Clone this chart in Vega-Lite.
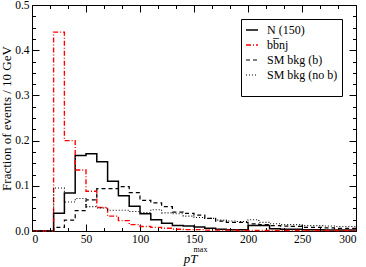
{
  "$schema": "https://vega.github.io/schema/vega-lite/v6.json",
  "width": 324,
  "height": 226,
  "autosize": {"type": "none"},
  "padding": {"left": 32, "top": 5, "right": 10, "bottom": 36},
  "config": {
    "view": {"stroke": "black", "strokeWidth": 1},
    "font": "Liberation Serif",
    "axis": {"domain": false, "grid": false, "labelFont": "Liberation Serif", "titleFont": "Liberation Serif", "labelColor": "black", "titleColor": "black", "tickColor": "black", "titleFontWeight": "normal", "labelFontSize": 11.5}
  },
  "data": {"values": [
    {"x": 0, "N (150)": 0, "bb̅nj": 0, "SM bkg (b)": 0, "SM bkg (no b)": 0},
    {"x": 10, "N (150)": 0, "bb̅nj": 0, "SM bkg (b)": 0, "SM bkg (no b)": 0},
    {"x": 20, "N (150)": 0.039, "bb̅nj": 0.44, "SM bkg (b)": 0.008, "SM bkg (no b)": 0.095},
    {"x": 30, "N (150)": 0.084, "bb̅nj": 0.2, "SM bkg (b)": 0.024, "SM bkg (no b)": 0.064},
    {"x": 40, "N (150)": 0.167, "bb̅nj": 0.135, "SM bkg (b)": 0.045, "SM bkg (no b)": 0.072},
    {"x": 50, "N (150)": 0.171, "bb̅nj": 0.088, "SM bkg (b)": 0.069, "SM bkg (no b)": 0.054},
    {"x": 60, "N (150)": 0.153, "bb̅nj": 0.052, "SM bkg (b)": 0.094, "SM bkg (no b)": 0.051},
    {"x": 70, "N (150)": 0.11, "bb̅nj": 0.033, "SM bkg (b)": 0.094, "SM bkg (no b)": 0.046},
    {"x": 80, "N (150)": 0.078, "bb̅nj": 0.023, "SM bkg (b)": 0.098, "SM bkg (no b)": 0.046},
    {"x": 90, "N (150)": 0.055, "bb̅nj": 0.014, "SM bkg (b)": 0.085, "SM bkg (no b)": 0.043},
    {"x": 100, "N (150)": 0.038, "bb̅nj": 0.01, "SM bkg (b)": 0.068, "SM bkg (no b)": 0.041},
    {"x": 110, "N (150)": 0.025, "bb̅nj": 0.008, "SM bkg (b)": 0.062, "SM bkg (no b)": 0.047},
    {"x": 120, "N (150)": 0.017, "bb̅nj": 0.006, "SM bkg (b)": 0.054, "SM bkg (no b)": 0.04},
    {"x": 130, "N (150)": 0.012, "bb̅nj": 0.004, "SM bkg (b)": 0.042, "SM bkg (no b)": 0.038},
    {"x": 140, "N (150)": 0.011, "bb̅nj": 0.003, "SM bkg (b)": 0.039, "SM bkg (no b)": 0.033},
    {"x": 150, "N (150)": 0.009, "bb̅nj": 0.003, "SM bkg (b)": 0.035, "SM bkg (no b)": 0.03},
    {"x": 160, "N (150)": 0.006, "bb̅nj": 0.002, "SM bkg (b)": 0.028, "SM bkg (no b)": 0.028},
    {"x": 170, "N (150)": 0.004, "bb̅nj": 0.002, "SM bkg (b)": 0.022, "SM bkg (no b)": 0.024},
    {"x": 180, "N (150)": 0.003, "bb̅nj": 0.002, "SM bkg (b)": 0.019, "SM bkg (no b)": 0.022},
    {"x": 190, "N (150)": 0.003, "bb̅nj": 0.001, "SM bkg (b)": 0.019, "SM bkg (no b)": 0.021},
    {"x": 200, "N (150)": 0.012, "bb̅nj": 0.001, "SM bkg (b)": 0.016, "SM bkg (no b)": 0.025},
    {"x": 210, "N (150)": 0.012, "bb̅nj": 0.001, "SM bkg (b)": 0.014, "SM bkg (no b)": 0.019},
    {"x": 220, "N (150)": 0.005, "bb̅nj": 0.001, "SM bkg (b)": 0.012, "SM bkg (no b)": 0.016},
    {"x": 230, "N (150)": 0.004, "bb̅nj": 0.001, "SM bkg (b)": 0.011, "SM bkg (no b)": 0.014},
    {"x": 240, "N (150)": 0.004, "bb̅nj": 0.001, "SM bkg (b)": 0.01, "SM bkg (no b)": 0.014},
    {"x": 250, "N (150)": 0.003, "bb̅nj": 0.001, "SM bkg (b)": 0.008, "SM bkg (no b)": 0.012},
    {"x": 260, "N (150)": 0.003, "bb̅nj": 0.001, "SM bkg (b)": 0.008, "SM bkg (no b)": 0.012},
    {"x": 270, "N (150)": 0.002, "bb̅nj": 0.001, "SM bkg (b)": 0.007, "SM bkg (no b)": 0.011},
    {"x": 280, "N (150)": 0.002, "bb̅nj": 0.001, "SM bkg (b)": 0.006, "SM bkg (no b)": 0.01},
    {"x": 290, "N (150)": 0.002, "bb̅nj": 0.001, "SM bkg (b)": 0.006, "SM bkg (no b)": 0.01},
    {"x": 300, "N (150)": 0.002, "bb̅nj": 0.001, "SM bkg (b)": 0.006, "SM bkg (no b)": 0.01}
  ]},
  "transform": [{"fold": ["N (150)", "bb̅nj", "SM bkg (b)", "SM bkg (no b)"], "as": ["series", "y"]}],
  "layer": [
    {
      "mark": {"type": "line", "interpolate": "step-after"},
      "encoding": {
        "x": {"field": "x", "type": "quantitative", "scale": {"domain": [0, 300], "nice": false},
          "axis": {"orient": "bottom", "values": [0, 50, 100, 150, 200, 250, 300], "tickSize": -7, "labelPadding": 9, "title": "pT", "titleFontStyle": "italic", "titleFontSize": 13, "titlePadding": 8, "titleX": 158}},
        "y": {"field": "y", "type": "quantitative", "scale": {"domain": [0, 0.5], "nice": false},
          "axis": {"orient": "left", "values": [0, 0.1, 0.2, 0.3, 0.4, 0.5], "tickSize": -7, "labelPadding": 10, "title": "Fraction of events / 10 GeV", "titleFontSize": 13, "titlePadding": 1}},
        "color": {"field": "series", "type": "nominal",
          "scale": {"domain": ["N (150)", "bb̅nj", "SM bkg (b)", "SM bkg (no b)"], "range": ["black", "#ff0000", "black", "black"]},
          "legend": {"orient": "top-right", "offset": 14, "title": " ", "titleOrient": "bottom", "titleFontSize": 6, "strokeColor": "black", "fillColor": "white", "padding": 4, "rowPadding": 2, "symbolType": "stroke", "symbolSize": 144, "symbolStrokeWidth": 1.2, "labelFont": "Liberation Serif", "labelFontSize": 12, "labelOffset": 8, "labelColor": "black", "cornerRadius": 0}},
        "strokeDash": {"field": "series", "type": "nominal",
          "scale": {"domain": ["N (150)", "bb̅nj", "SM bkg (b)", "SM bkg (no b)"], "range": [[1, 0], [5, 2, 1, 2], [4, 3], [1, 2]]}},
        "strokeWidth": {"field": "series", "type": "nominal",
          "scale": {"domain": ["N (150)", "bb̅nj", "SM bkg (b)", "SM bkg (no b)"], "range": [1.5, 1.1, 1.1, 1.1]}, "legend": null}
      }
    },
    {
      "mark": {"type": "line", "opacity": 0},
      "encoding": {
        "x": {"field": "x", "type": "quantitative", "axis": {"orient": "top", "values": [0, 50, 100, 150, 200, 250, 300], "tickSize": -7, "labels": false, "title": null}},
        "y": {"field": "y", "type": "quantitative", "axis": {"orient": "right", "values": [0, 0.1, 0.2, 0.3, 0.4, 0.5], "tickSize": -7, "labels": false, "title": null}}
      }
    },
    {
      "mark": {"type": "line", "opacity": 0},
      "encoding": {
        "x": {"field": "x", "type": "quantitative", "axis": {"orient": "bottom", "values": [16.667, 33.333, 66.667, 83.333, 116.667, 133.333, 166.667, 183.333, 216.667, 233.333, 266.667, 283.333], "tickSize": -3.5, "labels": false, "title": "max", "titleFontSize": 8, "titlePadding": 14, "titleX": 168}},
        "y": {"field": "y", "type": "quantitative", "axis": {"orient": "left", "values": [0.025, 0.05, 0.075, 0.125, 0.15, 0.175, 0.225, 0.25, 0.275, 0.325, 0.35, 0.375, 0.425, 0.45, 0.475], "tickSize": -3.5, "labels": false, "title": null}}
      }
    },
    {
      "mark": {"type": "line", "opacity": 0},
      "encoding": {
        "x": {"field": "x", "type": "quantitative", "axis": {"orient": "top", "values": [16.667, 33.333, 66.667, 83.333, 116.667, 133.333, 166.667, 183.333, 216.667, 233.333, 266.667, 283.333], "tickSize": -3.5, "labels": false, "title": null}},
        "y": {"field": "y", "type": "quantitative", "axis": {"orient": "right", "values": [0.025, 0.05, 0.075, 0.125, 0.15, 0.175, 0.225, 0.25, 0.275, 0.325, 0.35, 0.375, 0.425, 0.45, 0.475], "tickSize": -3.5, "labels": false, "title": null}}
      }
    }
  ],
  "resolve": {"axis": {"x": "independent", "y": "independent"}}
}
